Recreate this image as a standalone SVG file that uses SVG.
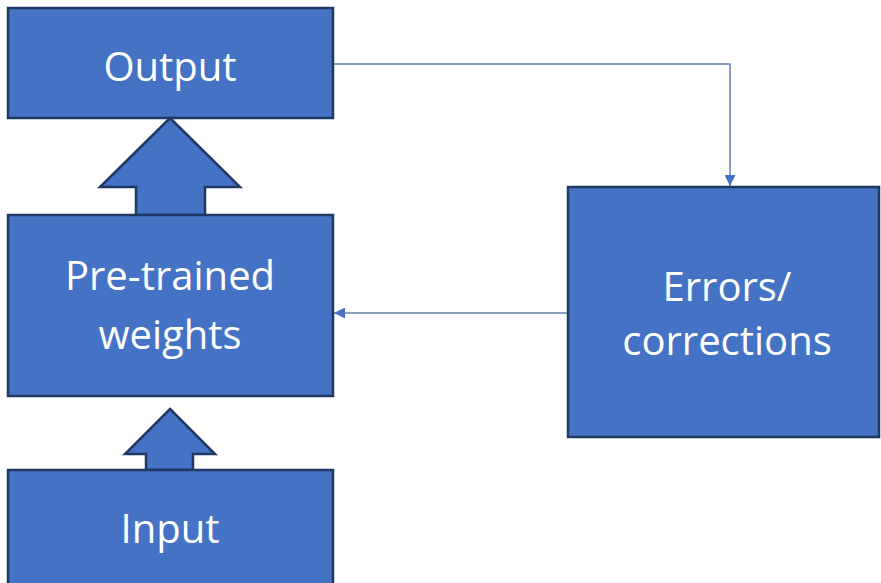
<svg xmlns="http://www.w3.org/2000/svg" width="881" height="583" viewBox="0 0 881 583">
<defs>
<style>
.box{fill:#4472C4;stroke:#1F3864;stroke-width:2.5}
.lbl{fill:#FFFFFF;font-family:"Open Sans","Noto Sans",sans-serif;font-size:40px;text-anchor:middle}
.conn{fill:none;stroke:#6680AE;stroke-width:1.5}
</style>
<marker id="ah" viewBox="0 0 10 10" refX="10" refY="5" markerWidth="11" markerHeight="11" markerUnits="userSpaceOnUse" orient="auto">
<path d="M0,0 L10,5 L0,10 Z" fill="#4472C4"/>
</marker>
</defs>
<rect width="881" height="583" fill="#FFFFFF"/>
<g id="connectors">
<polyline class="conn" points="333,64 730,64 730,186" marker-end="url(#ah)"/>
<line class="conn" x1="568" y1="313" x2="334" y2="313" marker-end="url(#ah)"/>
</g>
<g id="arrow-up-1">
<polygon class="box" points="170,118 240,187 205,187 205,215 136,215 136,187 100,187"/>
</g>
<g id="arrow-up-2">
<polygon class="box" points="170,409 215,454 193,454 193,470 146,470 146,454 125,454"/>
</g>
<g id="output">
<rect class="box" x="8" y="8" width="325" height="110"/>
<text class="lbl" x="170" y="81">Output</text>
</g>
<g id="pretrained">
<rect class="box" x="8" y="215" width="325" height="181"/>
<text class="lbl" x="170" y="290">Pre-trained</text>
<text class="lbl" x="170" y="349">weights</text>
</g>
<g id="input">
<rect class="box" x="8" y="470" width="325" height="120"/>
<text class="lbl" x="170" y="543">Input</text>
</g>
<g id="errors">
<rect class="box" x="568" y="187" width="311" height="250"/>
<text class="lbl" x="727" y="301">Errors/</text>
<text class="lbl" x="727" y="355">corrections</text>
</g>
</svg>
